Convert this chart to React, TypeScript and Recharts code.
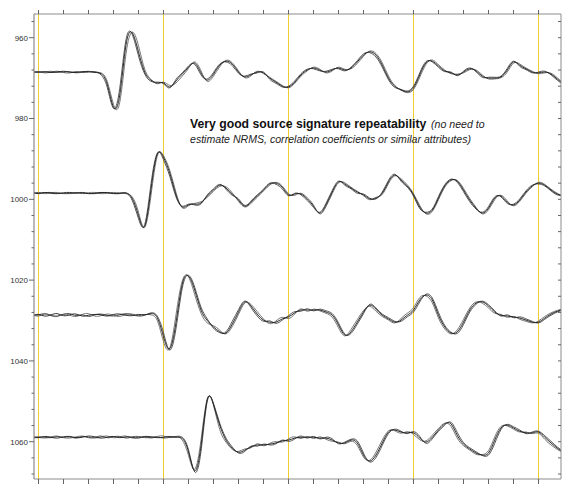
import React from 'react';
import { LineChart, Line, XAxis, YAxis, ReferenceLine } from 'recharts';

// sample times (arbitrary units; tick every 20)
const times = [-5, 0, 5, 10, 15, 20, 25, 30, 35, 40, 45, 50, 55, 60, 65, 70, 75, 80, 85, 90, 95, 100, 105, 110, 115, 120, 125, 130, 135, 140, 145, 150, 155, 160, 165, 170, 175, 180, 185, 190, 195, 200, 205, 210, 215, 220, 225, 230, 235, 240, 245, 250, 255, 260, 265, 270, 275, 280, 285, 290, 295, 300, 305, 310, 315, 320, 325, 330, 335, 340, 345, 350, 355, 360, 365, 370, 375, 380, 385, 390, 395, 400, 405, 410, 415, 420];

const xTicks = [0, 20, 40, 60, 80, 100, 120, 140, 160, 180, 200, 220, 240, 260, 280, 300, 320, 340, 360, 380, 400];
const gridX = [0, 100, 200, 300, 400];
const yTicks = [956, 960, 964, 968, 972, 976, 980, 984, 988, 992, 996, 1000, 1004, 1008, 1012, 1016, 1020, 1024, 1028, 1032, 1036, 1040, 1044, 1048, 1052, 1056, 1060, 1064, 1068];

// Group 1 (shot repeats)
const g1a = [968.5, 968.5, 968.4, 968.6, 968.5, 968.3, 968.5, 968.6, 968.4, 968.4, 968.6, 968.9, 971.5, 977.2, 974.2, 961.8, 958.8, 963.5, 968.5, 970.5, 971.2, 971.2, 972.2, 970.7, 969.0, 967.3, 966.3, 968.7, 970.5, 969.0, 966.8, 965.8, 966.5, 968.5, 969.7, 969.2, 968.5, 968.7, 970.0, 971.0, 972.0, 972.2, 971.0, 969.2, 968.0, 967.5, 968.0, 968.5, 968.0, 967.5, 968.0, 967.5, 966.0, 964.3, 963.5, 964.3, 966.8, 970.0, 972.0, 972.9, 973.4, 972.4, 969.2, 966.2, 965.8, 967.0, 968.2, 968.7, 969.2, 968.5, 967.7, 968.2, 969.5, 970.0, 970.0, 969.7, 968.0, 966.0, 966.8, 967.7, 968.5, 968.7, 968.5, 969.0, 970.2, 971.5];
const g1b = [968.4, 968.6, 968.5, 968.3, 968.6, 968.5, 968.4, 968.7, 968.5, 968.3, 968.5, 968.7, 970.8, 976.5, 976.0, 964.0, 958.6, 962.0, 967.8, 970.3, 971.4, 971.0, 971.8, 971.2, 969.5, 967.6, 966.0, 968.2, 970.8, 969.5, 967.2, 965.6, 966.2, 968.2, 969.9, 969.4, 968.3, 968.9, 969.8, 970.8, 971.8, 972.4, 971.3, 969.5, 968.2, 967.3, 967.8, 968.7, 968.2, 967.3, 967.8, 967.7, 966.4, 964.6, 963.3, 963.9, 966.2, 969.5, 971.8, 973.0, 973.6, 972.8, 969.8, 966.6, 965.5, 966.7, 968.0, 968.9, 969.0, 968.7, 967.9, 968.0, 969.2, 970.2, 970.2, 969.9, 968.5, 966.3, 966.5, 967.5, 968.3, 968.9, 968.7, 968.8, 969.9, 971.3];
const g1c = [968.6, 968.4, 968.7, 968.5, 968.3, 968.6, 968.7, 968.4, 968.6, 968.5, 968.4, 969.2, 972.3, 977.5, 972.5, 960.5, 959.2, 964.5, 969.0, 970.8, 971.0, 971.4, 972.4, 970.3, 968.7, 967.0, 966.6, 969.2, 970.2, 968.6, 966.5, 966.0, 966.9, 968.8, 969.5, 969.0, 968.7, 968.5, 970.3, 971.3, 972.2, 972.0, 970.7, 968.9, 967.8, 967.7, 968.2, 968.3, 967.8, 967.7, 968.2, 967.3, 965.7, 964.0, 963.7, 964.8, 967.3, 970.4, 972.3, 972.8, 973.2, 972.0, 968.7, 965.9, 966.0, 967.3, 968.4, 968.5, 969.4, 968.3, 967.5, 968.4, 969.8, 969.8, 969.8, 969.5, 967.6, 965.8, 967.1, 967.9, 968.7, 968.5, 968.3, 969.2, 970.5, 971.7];

// Group 2
const g2a = [998.4, 998.5, 998.3, 998.5, 998.6, 998.4, 998.3, 998.5, 998.4, 998.6, 998.5, 998.3, 998.4, 998.6, 998.5, 998.4, 999.8, 1004.0, 1006.7, 997.5, 988.8, 989.6, 993.5, 998.9, 1001.9, 1001.4, 1001.2, 1000.9, 999.2, 997.7, 996.5, 997.2, 998.7, 1000.2, 1001.7, 1000.7, 999.2, 997.7, 996.2, 996.0, 997.0, 998.9, 998.7, 998.7, 999.9, 1001.7, 1003.4, 1001.4, 998.2, 995.7, 996.2, 997.2, 998.2, 998.9, 999.9, 999.7, 998.5, 995.7, 994.0, 995.2, 996.7, 998.9, 1001.9, 1003.4, 1002.7, 999.7, 996.7, 995.2, 995.5, 997.7, 1000.2, 1002.2, 1003.4, 1002.2, 999.7, 999.2, 1000.7, 1001.4, 1000.2, 998.2, 996.7, 996.0, 996.5, 997.7, 998.7, 999.2];
const g2b = [998.5, 998.3, 998.6, 998.4, 998.3, 998.6, 998.5, 998.3, 998.6, 998.4, 998.3, 998.6, 998.5, 998.3, 998.4, 998.6, 999.4, 1003.2, 1006.9, 999.0, 989.3, 989.2, 992.8, 998.3, 1002.1, 1001.6, 1001.0, 1000.6, 999.5, 998.0, 996.8, 996.9, 998.4, 1000.5, 1001.9, 1001.0, 999.5, 997.9, 996.5, 995.8, 996.7, 998.6, 999.0, 998.5, 999.6, 1001.4, 1003.6, 1001.8, 998.6, 995.9, 995.9, 997.0, 998.0, 999.1, 1000.1, 999.5, 998.8, 996.1, 994.2, 994.9, 996.4, 998.6, 1001.5, 1003.6, 1003.0, 1000.1, 997.0, 995.4, 995.3, 997.3, 999.8, 1002.0, 1003.6, 1002.6, 1000.1, 999.0, 1000.4, 1001.6, 1000.5, 998.5, 996.9, 995.8, 996.3, 997.5, 998.5, 999.4];
const g2c = [998.3, 998.6, 998.4, 998.3, 998.5, 998.5, 998.6, 998.4, 998.3, 998.5, 998.6, 998.4, 998.3, 998.5, 998.6, 998.5, 1000.3, 1004.8, 1006.2, 996.2, 988.6, 990.2, 994.3, 999.4, 1001.7, 1001.2, 1001.4, 1001.1, 998.9, 997.4, 996.3, 997.5, 999.0, 999.9, 1001.5, 1000.4, 998.9, 997.5, 996.0, 996.3, 997.4, 999.1, 998.5, 998.9, 1000.3, 1002.0, 1003.2, 1001.0, 997.8, 995.5, 996.5, 997.4, 998.5, 998.7, 999.7, 999.9, 998.2, 995.3, 993.8, 995.5, 997.0, 999.2, 1002.3, 1003.2, 1002.4, 999.3, 996.4, 995.0, 995.8, 998.1, 1000.6, 1002.4, 1003.2, 1001.8, 999.4, 999.4, 1001.0, 1001.2, 999.9, 997.9, 996.5, 996.2, 996.7, 997.9, 998.9, 999.0];

// Group 3
const g3a = [1028.7, 1028.5, 1028.9, 1028.6, 1028.3, 1028.8, 1028.6, 1028.4, 1028.9, 1028.7, 1028.5, 1028.6, 1028.9, 1028.5, 1028.4, 1028.7, 1028.8, 1028.5, 1028.6, 1028.3, 1029.3, 1034.0, 1037.0, 1030.5, 1021.0, 1019.0, 1022.5, 1027.4, 1030.0, 1031.6, 1032.8, 1033.1, 1030.9, 1027.9, 1025.4, 1026.4, 1028.4, 1029.9, 1030.4, 1030.4, 1029.6, 1029.1, 1028.1, 1027.4, 1027.4, 1027.4, 1027.4, 1027.9, 1028.7, 1031.1, 1033.6, 1032.8, 1030.4, 1027.9, 1026.2, 1027.2, 1028.7, 1029.6, 1030.4, 1029.9, 1028.7, 1027.4, 1024.9, 1023.7, 1024.9, 1028.7, 1031.6, 1033.1, 1032.8, 1030.4, 1027.4, 1025.7, 1025.4, 1026.4, 1027.9, 1028.7, 1028.9, 1029.1, 1029.4, 1029.9, 1030.4, 1030.4, 1029.4, 1028.4, 1027.7, 1027.2];
const g3b = [1028.5, 1028.9, 1028.4, 1028.8, 1029.0, 1028.4, 1028.7, 1029.0, 1028.5, 1028.3, 1028.9, 1028.8, 1028.4, 1028.7, 1029.0, 1028.5, 1028.4, 1028.8, 1028.5, 1028.6, 1030.0, 1035.2, 1036.8, 1028.6, 1020.2, 1019.2, 1023.6, 1028.2, 1030.6, 1031.3, 1032.4, 1033.3, 1031.5, 1028.5, 1025.7, 1026.0, 1027.8, 1029.6, 1030.8, 1030.1, 1029.2, 1029.5, 1028.4, 1027.1, 1027.7, 1027.2, 1027.6, 1028.2, 1029.2, 1031.8, 1033.8, 1032.2, 1029.8, 1027.5, 1026.5, 1027.7, 1029.0, 1029.9, 1030.6, 1029.5, 1028.2, 1026.8, 1024.3, 1023.9, 1025.6, 1029.4, 1032.1, 1033.3, 1032.3, 1029.7, 1026.9, 1025.4, 1025.7, 1026.9, 1028.2, 1028.5, 1029.2, 1029.0, 1029.7, 1030.2, 1030.6, 1030.1, 1029.0, 1028.1, 1027.5, 1027.0];
const g3c = [1028.9, 1028.6, 1028.3, 1028.7, 1028.9, 1028.5, 1028.3, 1028.8, 1028.6, 1029.0, 1028.6, 1028.4, 1028.7, 1028.9, 1028.6, 1028.3, 1028.6, 1028.9, 1028.7, 1028.1, 1028.9, 1033.0, 1037.3, 1032.0, 1022.0, 1018.8, 1021.8, 1026.7, 1029.6, 1031.9, 1033.0, 1032.8, 1030.2, 1027.3, 1025.2, 1026.8, 1028.9, 1030.2, 1030.1, 1030.7, 1029.9, 1028.8, 1027.8, 1027.7, 1027.1, 1027.6, 1027.2, 1027.6, 1028.3, 1030.6, 1033.3, 1033.2, 1030.9, 1028.3, 1026.0, 1026.9, 1028.4, 1029.3, 1030.2, 1030.2, 1029.1, 1027.9, 1025.4, 1023.5, 1024.4, 1028.0, 1031.2, 1032.9, 1033.2, 1031.0, 1027.9, 1026.0, 1025.2, 1026.1, 1027.6, 1028.9, 1028.6, 1029.3, 1029.1, 1029.6, 1030.2, 1030.6, 1029.7, 1028.7, 1027.9, 1027.4];

// Group 4
const g4a = [1058.9, 1059.0, 1058.7, 1058.9, 1059.1, 1058.8, 1058.7, 1059.0, 1058.9, 1058.6, 1058.8, 1059.1, 1058.9, 1058.7, 1059.0, 1058.8, 1058.9, 1059.1, 1058.7, 1058.8, 1059.0, 1058.9, 1058.7, 1058.9, 1059.2, 1062.5, 1067.2, 1061.0, 1049.6, 1050.8, 1055.9, 1059.6, 1061.6, 1062.6, 1062.1, 1061.3, 1060.8, 1060.8, 1060.6, 1060.3, 1059.8, 1059.6, 1059.1, 1058.9, 1058.9, 1058.9, 1059.1, 1059.1, 1059.6, 1060.3, 1060.3, 1059.6, 1060.3, 1063.3, 1064.8, 1063.3, 1060.3, 1057.6, 1057.1, 1057.6, 1057.8, 1057.8, 1059.1, 1060.1, 1058.9, 1057.1, 1055.6, 1055.6, 1058.4, 1060.6, 1061.8, 1062.8, 1063.3, 1062.8, 1059.6, 1056.6, 1055.9, 1056.6, 1057.4, 1057.8, 1057.8, 1057.6, 1058.9, 1060.3, 1061.6, 1062.6];
const g4b = [1058.7, 1058.9, 1059.1, 1058.8, 1058.6, 1059.0, 1059.1, 1058.8, 1058.6, 1058.9, 1059.1, 1058.8, 1058.6, 1059.0, 1058.8, 1058.6, 1059.1, 1058.9, 1058.8, 1059.1, 1058.7, 1058.6, 1059.0, 1058.8, 1059.6, 1063.4, 1066.8, 1059.6, 1049.4, 1051.0, 1057.0, 1060.1, 1061.9, 1062.4, 1061.8, 1061.5, 1060.5, 1061.0, 1060.4, 1060.0, 1060.1, 1059.3, 1058.8, 1059.2, 1058.7, 1059.2, 1058.8, 1059.4, 1059.9, 1060.1, 1060.5, 1059.9, 1060.9, 1063.8, 1064.6, 1062.6, 1059.6, 1057.3, 1057.3, 1057.9, 1057.5, 1058.2, 1059.5, 1059.8, 1058.4, 1056.7, 1055.4, 1056.2, 1059.1, 1061.0, 1062.1, 1063.1, 1063.2, 1062.2, 1058.8, 1056.2, 1056.1, 1056.9, 1057.6, 1057.6, 1058.0, 1057.9, 1059.4, 1060.8, 1061.9, 1062.8];
const g4c = [1059.1, 1058.8, 1058.9, 1059.0, 1058.7, 1058.9, 1058.8, 1059.1, 1058.7, 1059.0, 1058.9, 1058.6, 1059.0, 1058.8, 1058.7, 1059.1, 1058.8, 1058.7, 1059.0, 1058.9, 1058.8, 1059.1, 1058.9, 1058.7, 1058.9, 1062.0, 1067.5, 1062.4, 1050.0, 1050.5, 1055.4, 1059.1, 1061.3, 1062.8, 1062.4, 1061.1, 1061.1, 1060.6, 1060.8, 1060.5, 1059.6, 1059.9, 1059.3, 1058.6, 1059.1, 1058.7, 1059.3, 1058.9, 1059.3, 1060.5, 1060.1, 1059.4, 1059.8, 1062.8, 1065.0, 1063.9, 1060.9, 1058.0, 1056.9, 1057.4, 1058.0, 1057.5, 1058.7, 1060.4, 1059.3, 1057.4, 1055.9, 1055.2, 1057.7, 1060.2, 1061.5, 1062.5, 1063.4, 1063.3, 1060.4, 1057.0, 1055.7, 1056.3, 1057.1, 1058.0, 1057.6, 1057.4, 1058.5, 1059.9, 1061.3, 1062.4];

const series: { key: string; values: number[]; color: string }[] = [
  { key: 'g1b', values: g1b, color: '#6a6a6a' },
  { key: 'g1c', values: g1c, color: '#444' },
  { key: 'g1a', values: g1a, color: '#1a1a1a' },
  { key: 'g2b', values: g2b, color: '#6a6a6a' },
  { key: 'g2c', values: g2c, color: '#444' },
  { key: 'g2a', values: g2a, color: '#1a1a1a' },
  { key: 'g3b', values: g3b, color: '#6a6a6a' },
  { key: 'g3c', values: g3c, color: '#444' },
  { key: 'g3a', values: g3a, color: '#1a1a1a' },
  { key: 'g4b', values: g4b, color: '#6a6a6a' },
  { key: 'g4c', values: g4c, color: '#444' },
  { key: 'g4a', values: g4a, color: '#1a1a1a' },
];

const rows = times.map((t, i) => {
  const r: Record<string, number> = { t };
  series.forEach((s) => {
    r[s.key] = s.values[i];
  });
  return r;
});

const AXIS = '#8c8c8c';
const TICK = '#666';
const YELLOW = '#f0cd2e';
const FONT = '"Liberation Sans", Arial, Helvetica, sans-serif';

const LeftTick = (props: any) => {
  const { x, y, payload } = props;
  const v = payload.value;
  const major = v % 20 === 0;
  return (
    <g>
      <line x1={x - (major ? 5 : 2.5)} x2={x} y1={y} y2={y} stroke={TICK} strokeWidth={1} />
      {major && (
        <text x={x - 6} y={y + 2.8} textAnchor="end" fontSize={8} fill="#333" fontFamily={FONT}>
          {v}
        </text>
      )}
    </g>
  );
};

const RightTick = (props: any) => {
  const { x, y } = props;
  return <line x1={x - 3} x2={x} y1={y} y2={y} stroke={TICK} strokeWidth={1} />;
};

const TopTick = (props: any) => {
  const { x, y } = props;
  return <line x1={x} x2={x} y1={y - 4} y2={y} stroke={TICK} strokeWidth={1} />;
};

const BottomTick = (props: any) => {
  const { x, y } = props;
  return <line x1={x} x2={x} y1={y} y2={y + 5} stroke={TICK} strokeWidth={1} />;
};

export default function App() {
  return (
    <div style={{ position: 'absolute', left: 0, top: 0, width: 562, height: 484, background: '#fff' }}>
      <LineChart width={562} height={484} data={rows} margin={{ top: 10, right: 0, bottom: 0, left: 0 }}>
        <XAxis
          xAxisId="b"
          dataKey="t"
          type="number"
          domain={[-3.6, 418]}
          allowDataOverflow
          ticks={xTicks}
          interval={0}
          height={5}
          tickSize={0}
          tickMargin={0}
          tick={<BottomTick />}
          tickLine={false}
          axisLine={{ stroke: AXIS, strokeWidth: 1.2 }}
        />
        <XAxis
          xAxisId="top"
          orientation="top"
          dataKey="t"
          type="number"
          domain={[-3.6, 418]}
          allowDataOverflow
          ticks={xTicks}
          interval={0}
          height={4}
          tickSize={0}
          tickMargin={0}
          tick={<TopTick />}
          tickLine={false}
          axisLine={{ stroke: AXIS, strokeWidth: 1.2 }}
        />
        <YAxis
          yAxisId="l"
          type="number"
          domain={[954.13, 1069.23]}
          reversed
          allowDataOverflow
          ticks={yTicks}
          interval={0}
          width={34}
          tickSize={0}
          tickMargin={0}
          tick={<LeftTick />}
          tickLine={false}
          axisLine={{ stroke: AXIS, strokeWidth: 1.2 }}
        />
        <YAxis
          yAxisId="r"
          orientation="right"
          type="number"
          domain={[954.13, 1069.23]}
          reversed
          allowDataOverflow
          ticks={yTicks}
          interval={0}
          width={1}
          tickSize={0}
          tickMargin={0}
          tick={<RightTick />}
          tickLine={false}
          axisLine={{ stroke: AXIS, strokeWidth: 1 }}
        />
        {gridX.map((g) => (
          <ReferenceLine key={g} x={g} xAxisId="b" yAxisId="l" stroke={YELLOW} strokeWidth={1} />
        ))}
        {series.map((s) => (
          <Line
            key={s.key}
            xAxisId="b"
            yAxisId="l"
            dataKey={s.key}
            type="natural"
            stroke={s.color}
            strokeWidth={0.9}
            dot={false}
            isAnimationActive={false}
          />
        ))}
      </LineChart>
      <div
        style={{
          position: 'absolute',
          left: 190,
          top: 116.3,
          fontFamily: FONT,
          color: '#111',
          lineHeight: '15px',
          whiteSpace: 'nowrap',
          transform: 'scaleX(0.905)',
          transformOrigin: '0 0',
        }}
      >
        <div style={{ fontSize: 13.5 }}>
          <span style={{ fontWeight: 'bold' }}>Very good source signature repeatability</span>
          <span style={{ fontStyle: 'italic', fontSize: 11.7, color: '#222', marginLeft: 2 }}> (no need to</span>
        </div>
        <div style={{ fontStyle: 'italic', fontSize: 11.7, color: '#222' }}>
          estimate NRMS, correlation coefficients or similar attributes)
        </div>
      </div>
    </div>
  );
}
